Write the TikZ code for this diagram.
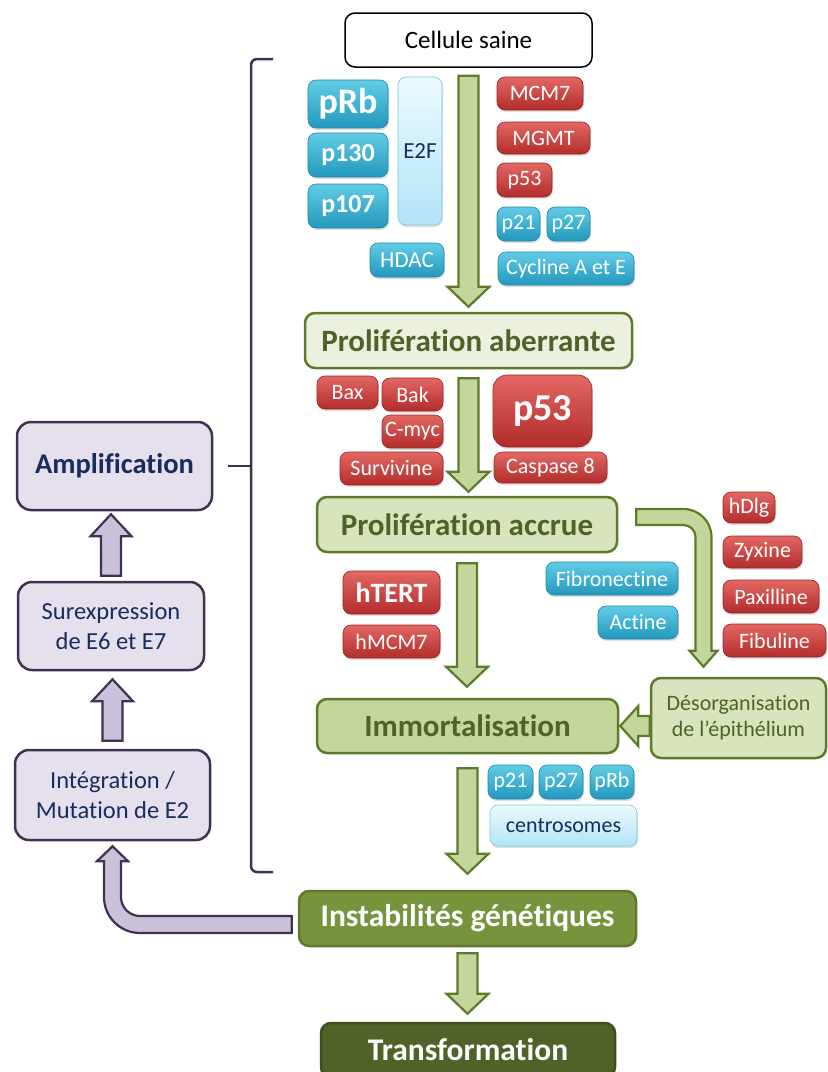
\documentclass[tikz,border=0pt]{standalone}
\usepackage{fontspec}
\setmainfont{Carlito}[Ligatures = NoCommon]
\usetikzlibrary{calc,shadows}
\definecolor{blueTop}{RGB}{98,204,230}
\definecolor{blueBottom}{RGB}{35,152,189}
\definecolor{blueLine}{RGB}{33,133,165}
\definecolor{redTop}{RGB}{226,104,100}
\definecolor{redBottom}{RGB}{178,44,42}
\definecolor{redLine}{RGB}{150,36,34}
\definecolor{iceTop}{RGB}{236,250,254}
\definecolor{iceBottom}{RGB}{178,228,247}
\definecolor{iceLine}{RGB}{120,200,228}
\definecolor{navyText}{RGB}{23,45,94}
\definecolor{oliveDark}{RGB}{79,98,40}
\definecolor{oliveLine}{RGB}{94,122,43}
\definecolor{greenPale}{RGB}{235,241,222}
\definecolor{greenLight}{RGB}{215,228,189}
\definecolor{greenMid}{RGB}{195,214,155}
\definecolor{greenStrong}{RGB}{119,147,60}
\definecolor{lavFill}{RGB}{229,224,236}
\definecolor{lavLine}{RGB}{63,49,81}
\definecolor{lavArrowFill}{RGB}{204,193,218}
\tikzstyle{flowchart} = [x = 1pt, y = -1pt]
\tikzstyle{pillBase} = [rounded corners = 8pt, inner sep = 1pt, line width = 0.6pt, drop shadow = {opacity = 0.25, shadow xshift = 1pt, shadow yshift = -2pt}]
\tikzstyle{bluePill} = [pillBase, draw = blueLine, top color = blueTop, bottom color = blueBottom, text = white, font = \fontsize{22}{25}\selectfont]
\tikzstyle{redPill} = [pillBase, draw = redLine, top color = redTop, bottom color = redBottom, text = white, font = \fontsize{22}{25}\selectfont]
\tikzstyle{icePill} = [pillBase, draw = iceLine, top color = iceTop, bottom color = iceBottom, text = navyText, font = \fontsize{22}{25}\selectfont]
\tikzstyle{stageBox} = [draw = oliveLine, line width = 2.5pt, rounded corners = 10pt, inner sep = 1pt, text = oliveDark, font = \fontsize{31}{34}\selectfont\bfseries]
\tikzstyle{startBox} = [draw = black, fill = white, line width = 1.5pt, rounded corners = 10pt, font = \fontsize{25}{28}\selectfont]
\tikzstyle{lavBox} = [draw = lavLine, fill = lavFill, line width = 2.5pt, rounded corners = 14pt, text = navyText, align = center, font = \fontsize{24.5}{30}\selectfont]
\tikzstyle{blockArrow} = [fill = greenMid, draw = oliveLine, line width = 2.2pt]
\tikzstyle{lavBlock} = [fill = lavArrowFill, draw = lavLine, line width = 2.2pt]
\tikzstyle{braceLine} = [draw = lavLine, line width = 2.5pt, rounded corners = 6pt]
\newcommand{\boxAt}[7]{
  \pgfmathsetmacro{\boxX}{(#3 + #5) / 2}
  \pgfmathsetmacro{\boxY}{(#4 + #6) / 2}
  \pgfmathsetmacro{\boxW}{#5 - #3}
  \pgfmathsetmacro{\boxH}{#6 - #4}
  \node [#1, minimum width = \boxW pt, minimum height = \boxH pt] (#2) at (\boxX, \boxY) {#7};
}
\newcommand{\downArrow}[4]{\filldraw [blockArrow] let \p1 = (#1.south), \p2 = (#2.north) in (\x1 - 10pt, \y1 - #3pt) -- (\x1 + 10pt, \y1 - #3pt) -- (\x1 + 10pt, \y2 + #4pt + 20pt) -- (\x1 + 21pt, \y2 + #4pt + 20pt) -- (\x1, \y2 + #4pt) -- (\x1 - 21pt, \y2 + #4pt + 20pt) -- (\x1 - 10pt, \y2 + #4pt + 20pt) -- cycle;}
\newcommand{\upArrow}[4]{\filldraw [lavBlock] let \p1 = (#1.north), \p2 = (#2.south) in (\x1 - 10pt, \y1 + #3pt) -- (\x1 + 10pt, \y1 + #3pt) -- (\x1 + 10pt, \y2 - #4pt - 22pt) -- (\x1 + 20.5pt, \y2 - #4pt - 22pt) -- (\x1, \y2 - #4pt) -- (\x1 - 20.5pt, \y2 - #4pt - 22pt) -- (\x1 - 10pt, \y2 - #4pt - 22pt) -- cycle;}
\newcommand{\leftArrow}[2]{\filldraw [blockArrow] let \p1 = (#1.west), \p2 = (#2.east) in (\x1, \y2 + 10pt) -- (\x2 + 19pt, \y2 + 10pt) -- (\x2 + 19pt, \y2 + 20pt) -- (\x2 + 1pt, \y2) -- (\x2 + 19pt, \y2 - 20pt) -- (\x2 + 19pt, \y2 - 10pt) -- (\x1, \y2 - 10pt) -- cycle;}
\begin{document}
\begin{tikzpicture}[flowchart]
  \useasboundingbox (0, 0) rectangle (828, 1072);

  \boxAt{startBox}{cellule}{345}{13}{592}{67}{Cellule saine}
  \boxAt{stageBox, fill = greenPale}{aberrante}{305}{313}{632}{368}{Prolifération aberrante}
  \boxAt{stageBox, fill = greenLight}{accrue}{317}{497}{617}{552}{Prolifération accrue}
  \boxAt{stageBox, fill = greenMid, font = \fontsize{31}{34}\selectfont\bfseries}{immort}{317}{699}{618}{753}{Immortalisation}
  \boxAt{stageBox, fill = greenLight, font = \fontsize{22}{26}\selectfont, align = center}{desorg}{651}{678}{826}{758}{Désorganisation\\de l’épithélium}
  \boxAt{stageBox, fill = greenStrong, text = white, font = \fontsize{31.5}{34}\selectfont\bfseries}{instab}{299}{891}{636}{946}{Instabilités génétiques}
  \boxAt{stageBox, fill = oliveDark, draw = oliveDark!80!black, text = white, font = \fontsize{31.5}{34}\selectfont\bfseries}{transf}{321}{1023}{615}{1077}{Transformation}

  \boxAt{bluePill, font = \fontsize{36}{38}\selectfont\bfseries}{prbTop}{308}{80}{388}{128}{pRb}
  \boxAt{bluePill, font = \fontsize{26}{28}\selectfont\bfseries}{p130}{308}{133}{388}{177}{p130}
  \boxAt{bluePill, font = \fontsize{26}{28}\selectfont\bfseries}{p107}{308}{184}{388}{228}{p107}
  \boxAt{icePill, font = \fontsize{23}{25}\selectfont}{e2f}{398}{77}{442}{225}{E2F}
  \boxAt{bluePill, font = \fontsize{23}{25}\selectfont}{hdac}{370}{243}{444}{277}{HDAC}
  \boxAt{redPill}{mcm7}{497}{77}{583}{110}{MCM7}
  \boxAt{redPill}{mgmt}{497}{122}{590}{154}{MGMT}
  \boxAt{redPill}{p53Top}{497}{163}{552}{197}{p53}
  \boxAt{bluePill}{p21Top}{497}{207}{540}{241}{p21}
  \boxAt{bluePill}{p27Top}{547}{207}{590}{241}{p27}
  \boxAt{bluePill}{cycline}{498}{252}{634}{285}{Cycline A et E}

  \boxAt{redPill}{bax}{317}{376}{378}{409}{Bax}
  \boxAt{redPill}{bak}{382}{378}{443}{411}{Bak}
  \boxAt{redPill}{cmyc}{382}{415}{443}{448}{C-myc}
  \boxAt{redPill}{survivine}{340}{452}{443}{485}{Survivine}
  \boxAt{redPill, rounded corners = 14pt, font = \fontsize{38}{40}\selectfont\bfseries}{p53Big}{493}{375}{592}{447}{p53}
  \boxAt{redPill}{caspase}{494}{452}{607}{483}{Caspase 8}

  \boxAt{redPill, font = \fontsize{28}{30}\selectfont\bfseries}{htert}{343}{571}{440}{614}{hTERT}
  \boxAt{redPill}{hmcm7}{343}{625}{440}{658}{hMCM7}
  \boxAt{bluePill}{fibronectine}{546}{562}{678}{595}{Fibronectine}
  \boxAt{bluePill}{actine}{598}{606}{678}{639}{Actine}
  \boxAt{redPill}{hdlg}{723}{492}{775}{523}{hDlg}
  \boxAt{redPill}{zyxine}{723}{536}{802}{568}{Zyxine}
  \boxAt{redPill}{paxilline}{723}{580}{819}{613}{Paxilline}
  \boxAt{redPill}{fibuline}{723}{624}{826}{657}{Fibuline}

  \boxAt{bluePill}{p21Low}{488}{765}{533}{799}{p21}
  \boxAt{bluePill}{p27Low}{539}{765}{583}{799}{p27}
  \boxAt{bluePill}{prbLow}{590}{765}{634}{799}{pRb}
  \boxAt{icePill}{centro}{490}{805}{637}{846}{centrosomes}

  \boxAt{lavBox, font = \fontsize{28.5}{30}\selectfont\bfseries}{ampli}{17}{422}{212}{510}{Amplification}
  \boxAt{lavBox}{surexp}{18}{582}{204}{670}{Surexpression\\de E6 et E7}
  \boxAt{lavBox}{integ}{15}{750}{210}{840}{Intégration /\\Mutation de E2}

  \downArrow{cellule}{aberrante}{8}{5}
  \downArrow{aberrante}{accrue}{9}{4}
  \downArrow{accrue}{immort}{10}{11}
  \downArrow{immort}{instab}{14}{16}
  \downArrow{instab}{transf}{6}{8}
  \leftArrow{desorg}{immort}
  \filldraw [blockArrow] let \p1 = ([xshift = 18pt, yshift = 15.5pt]accrue.east), \p2 = ([xshift = -35pt, yshift = 10pt]desorg.north) in (\x1, \y1) -- (\x2 - 20pt, \y1) .. controls (\x2 - 4.5pt, \y1) and (\x2 + 8pt, \y1 - 12.5pt) .. (\x2 + 8pt, \y1 - 28pt) -- (\x2 + 8pt, \y2 + 16pt) -- (\x2 + 14pt, \y2 + 16pt) -- (\x2, \y2) -- (\x2 - 14pt, \y2 + 16pt) -- (\x2 - 8pt, \y2 + 16pt) -- (\x2 - 8pt, \y1 - 28pt) .. controls (\x2 - 8pt, \y1 - 21.4pt) and (\x2 - 13.4pt, \y1 - 16pt) .. (\x2 - 20pt, \y1 - 16pt) -- (\x1, \y1 - 16pt) -- cycle;

  \upArrow{surexp}{ampli}{5}{3}
  \upArrow{integ}{surexp}{8}{8}
  \filldraw [lavBlock] let \p1 = ([xshift = -6pt, yshift = 2.5pt]instab.west), \p2 = ([yshift = -5pt]integ.south) in (\x1, \y1) -- (\x2 + 27.5pt, \y1) .. controls (\x2 + 17pt, \y1) and (\x2 + 8.5pt, \y1 + 8.5pt) .. (\x2 + 8.5pt, \y1 + 19pt) -- (\x2 + 8.5pt, \y2 - 15pt) -- (\x2 + 15.5pt, \y2 - 15pt) -- (\x2, \y2) -- (\x2 - 15.5pt, \y2 - 15pt) -- (\x2 - 8.5pt, \y2 - 15pt) -- (\x2 - 8.5pt, \y1 + 19pt) .. controls (\x2 - 8.5pt, \y1 - 0.9pt) and (\x2 + 7.6pt, \y1 - 17pt) .. (\x2 + 27.5pt, \y1 - 17pt) -- (\x1, \y1 - 17pt) -- cycle;

  \coordinate (braceTop) at (273, 59);
  \coordinate (braceBottom) at (273, 872);
  \draw [braceLine] (braceTop) -- (251, 59) -- (251, 872) -- (braceBottom);
  \draw [braceLine] ([xshift = 15pt]ampli.east) -- (251, 466);
\end{tikzpicture}
\end{document}
